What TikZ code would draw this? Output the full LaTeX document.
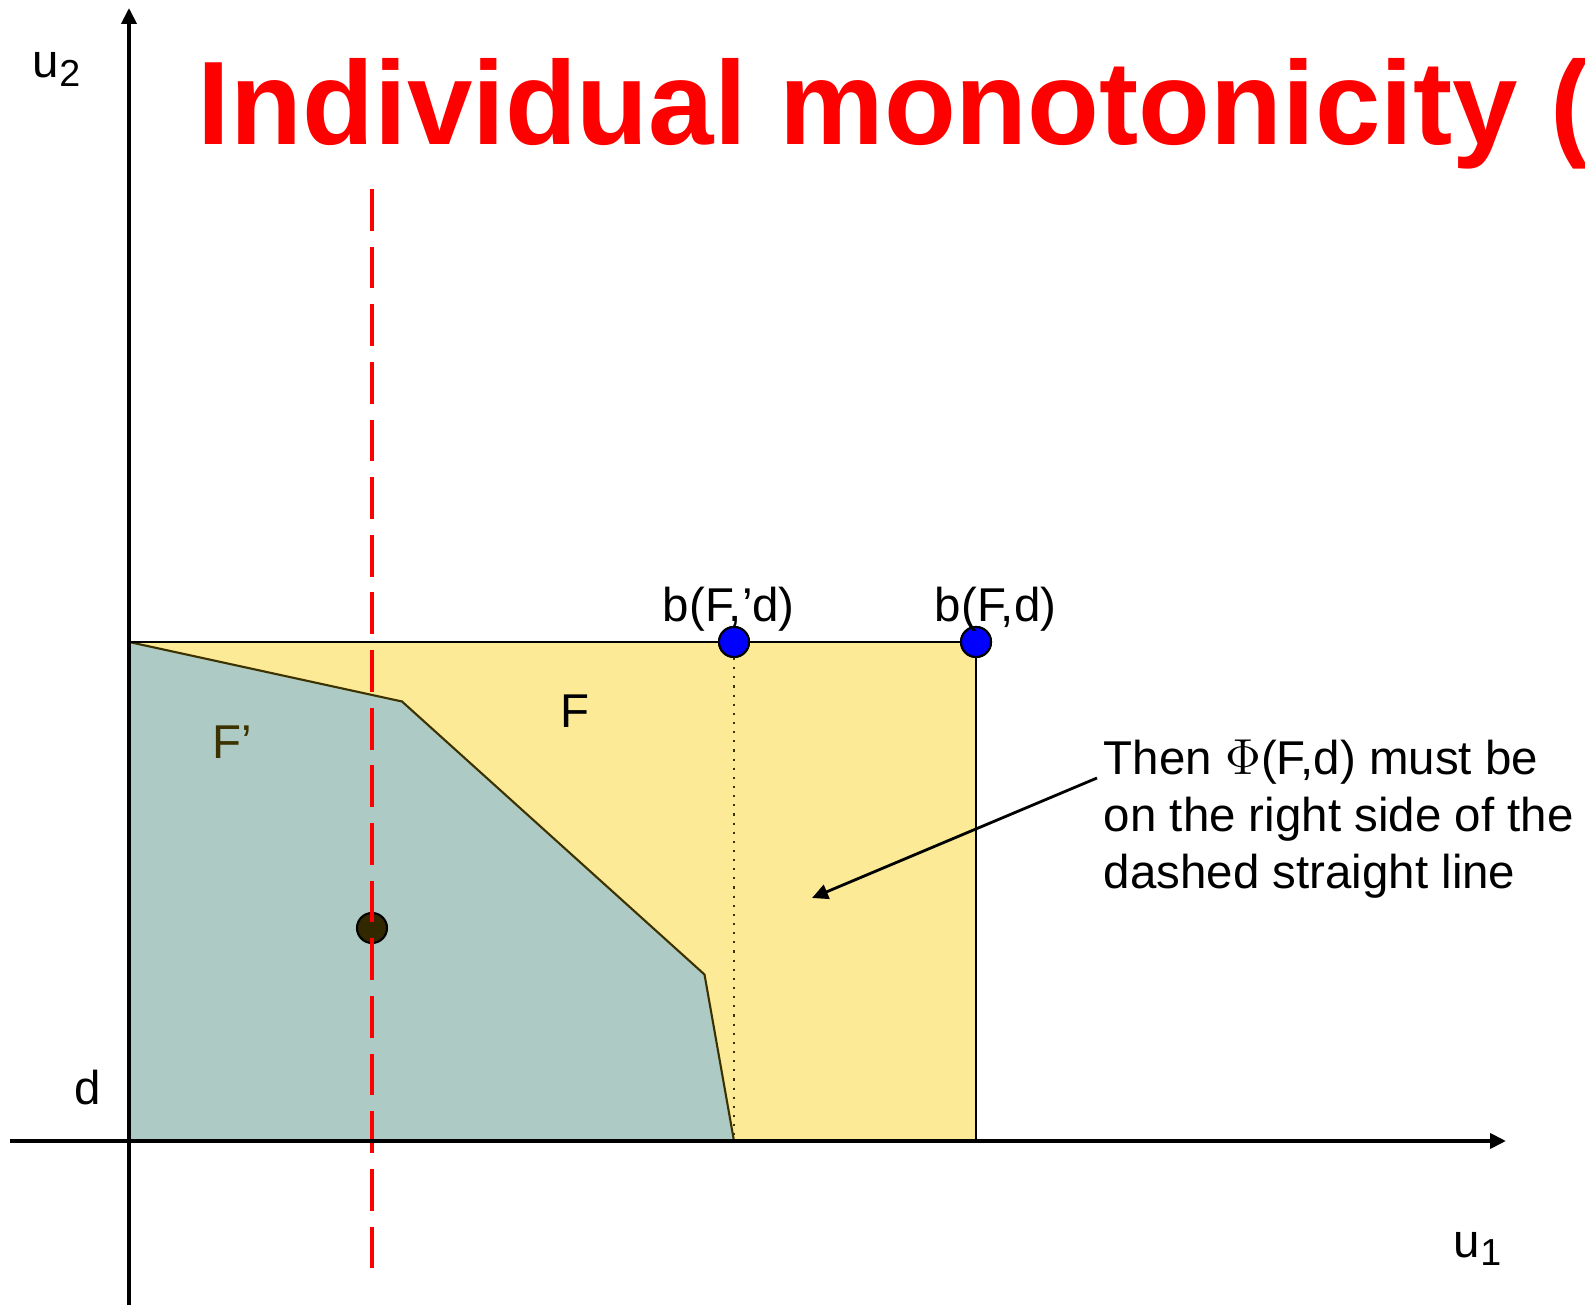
\documentclass[tikz,border=0pt]{standalone}
\usepackage{fontspec}
\setmainfont{Liberation Sans}
\usetikzlibrary{arrows.meta}

\definecolor{zonaF}{RGB}{253,234,150}
\definecolor{zonaFp}{RGB}{174,202,196}
\definecolor{oliva}{RGB}{60,50,0}
\definecolor{rojo}{RGB}{255,0,0}

\newcommand{\subind}[1]{\raisebox{-0.32ex}{\fontsize{10.7}{12}\selectfont #1}}

\begin{document}
\begin{tikzpicture}[>={Triangle[length=1.6mm,width=1.5mm]}, line width=1.1pt,
  etiq/.style={font=\fontsize{13.5}{16.2}\selectfont, inner sep=0pt, anchor=base west},
  punto/.style={circle, draw=black, line width=0.6pt, fill=blue, minimum size=3mm, inner sep=0pt}]
  \useasboundingbox (-1.29,-1.64) rectangle (14.56,11.41);

  % Conjunto F
  \fill[zonaF] (0,0) rectangle (8.47,4.99);

  % Conjunto F'
  \fill[zonaFp] (0,4.99) -- (2.73,4.395) -- (5.755,1.665) -- (6.05,0) -- (0,0) -- cycle;
  \draw[oliva, line width=0.6pt] (0,4.99) -- (2.73,4.395) -- (5.755,1.665) -- (6.05,0);

  % Puntos b(F',d) y b(F,d)
  \node[punto] (bFp) at (6.05,4.99) {};
  \node[punto] (bF) at (8.47,4.99) {};
  \coordinate (pieFp) at (6.05,0);
  \coordinate (pieF) at (8.47,0);
  \coordinate (esq) at (0,4.99);

  % Bordes de F
  \draw[line width=0.6pt] (esq) -- (bFp) -- (bF) -- (pieF);
  \draw[dotted, oliva, line width=0.6pt] (bFp) -- (pieFp);
  \node[punto] at (bFp) {};
  \node[punto] at (bF) {};

  % Solución sobre la recta
  \node[circle, draw=black, line width=0.6pt, fill={rgb,255:red,50;green,40;blue,0}, minimum size=3mm, inner sep=0pt] (phi) at (2.43,2.13) {};

  % Recta discontinua
  \coordinate (rectaSup) at (2.43,9.52);
  \coordinate (rectaInf) at (2.43,-1.35);
  \draw[rojo, line width=1.4pt, dash pattern=on 11.9pt off 4.5pt] (rectaSup) -- (rectaInf);

  % Ejes
  \coordinate (O) at (0,0);
  \coordinate (ejeXizq) at (-1.19,0);
  \coordinate (ejeXder) at (13.77,0);
  \coordinate (ejeYinf) at (0,-1.64);
  \coordinate (ejeYsup) at (0,11.33);
  \draw[->] (ejeXizq) -- (ejeXder);
  \draw[->] (ejeYinf) -- (ejeYsup);

  % Título
  \node[etiq, font=\fontsize{33.8}{40}\selectfont\bfseries, text=rojo, xscale=0.99] (titulo) at (0.67,9.96) {Individual monotonicity (};

  % Etiquetas
  \node[etiq] (u2) at (-0.98,10.63) {u\subind{2}};
  \node[etiq] (u1) at (13.23,-1.16) {u\subind{1}};
  \node[etiq] (d) at (-0.56,0.36) {d};
  \node[etiq] (F) at (4.30,4.13) {F};
  \node[etiq, text=oliva] (Fp) at (0.82,3.82) {F’};
  \node[etiq] (lbFp) at (5.32,5.19) {b(F,’d)};
  \node[etiq] (lbF) at (8.04,5.19) {b(F,d)};

  % Comentario con flecha
  \node[etiq, anchor=north west, align=left] (nota) at (9.73,4.03)
    {Then $\Phi$(F,d) must be\\on the right side of the\\dashed straight line};
  \coordinate (flechaIni) at (9.68,3.63);
  \coordinate (flechaFin) at (6.83,2.43);
  \draw[->, line width=0.8pt] (flechaIni) -- (flechaFin);
\end{tikzpicture}
\end{document}
